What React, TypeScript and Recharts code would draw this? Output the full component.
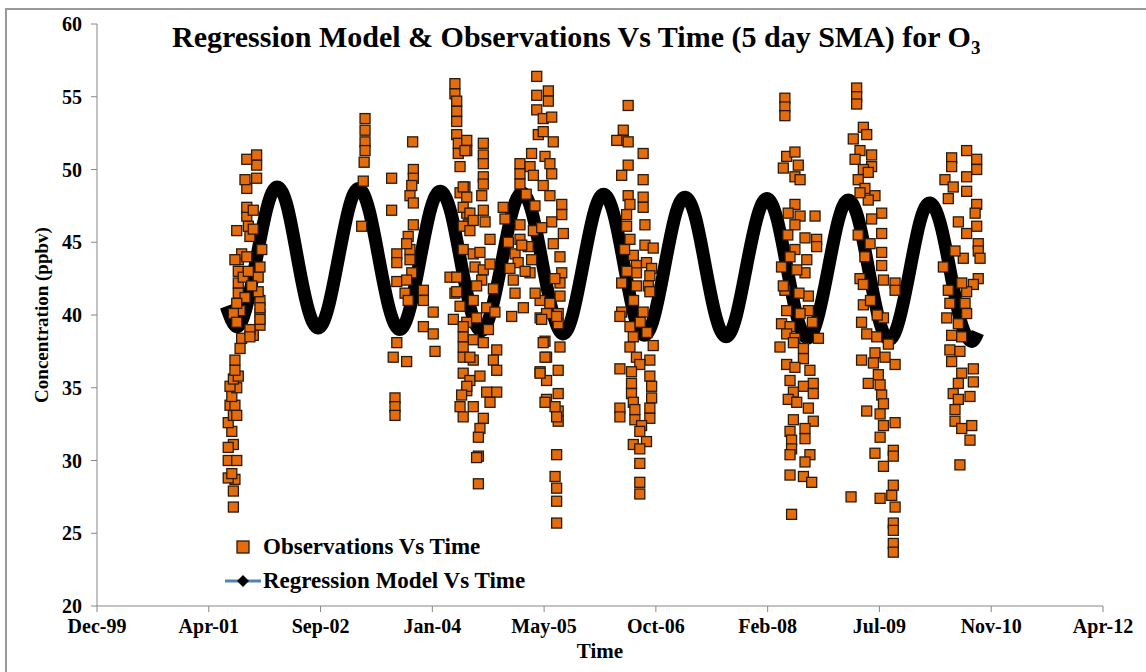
import React from "react";
import { ComposedChart, Scatter, Line, XAxis, YAxis } from "recharts";

const FONT = '"Liberation Serif", "Times New Roman", serif';
const ORANGE = "#E46C0A";

// x axis is Excel day serials, 500 days between ticks
const tickDays = [36500, 37000, 37500, 38000, 38500, 39000, 39500, 40000, 40500, 41000];
const tickLabels = ["Dec-99", "Apr-01", "Sep-02", "Jan-04", "May-05", "Oct-06", "Feb-08", "Jul-09", "Nov-10", "Apr-12"];
const yTicks = [20, 25, 30, 35, 40, 45, 50, 55, 60];

// observations, [day, ppbv], grouped by campaign
const obsA = [
  [37110, 26.8], [37110, 27.9], [37117, 28.7], [37087, 28.8], [37103, 29.1], [37087, 30.0], [37125, 30.0], [37110, 31.1],
  [37087, 30.9], [37103, 32.0], [37087, 32.6], [37110, 33.1], [37125, 33.1], [37095, 33.8], [37117, 33.8], [37103, 34.4],
  [37125, 35.0], [37095, 35.1], [37110, 35.6], [37132, 35.8], [37117, 36.2], [37117, 36.9], [37140, 37.7], [37147, 38.4],
  [37199, 38.7], [37229, 39.3], [37229, 40.1], [37229, 41.0], [37221, 42.6], [37229, 43.3], [37237, 44.5], [37132, 42.2],
  [37132, 43.0], [37132, 43.8], [37132, 41.5], [37154, 42.6], [37184, 45.4], [37177, 46.1], [37125, 45.8], [37170, 46.8],
  [37170, 47.4], [37199, 47.2], [37170, 48.7], [37214, 49.4], [37214, 50.3], [37170, 50.7], [37214, 51.0], [37229, 39.7],
  [37199, 38.6], [37229, 40.5], [37221, 41.6], [37147, 44.2], [37140, 40.3], [37162, 49.3], [37199, 45.9], [37170, 44.0],
  [37177, 43.0], [37162, 41.2], [37192, 42.0], [37117, 43.8], [37125, 40.8], [37110, 40.1], [37125, 39.5], [37184, 39.0],
  [37184, 38.5],
];
const obsB = [[37699, 53.5], [37699, 52.7], [37699, 51.9], [37699, 51.3], [37695, 50.5], [37691, 49.2], [37684, 46.1]];
const obsC = [
  [37912, 51.9], [37818, 49.4], [37915, 50.0], [37915, 49.4], [37908, 48.9], [37900, 48.2], [37915, 47.7], [37818, 47.2],
  [37915, 46.2], [37892, 45.4], [37900, 44.5], [37841, 44.2], [37841, 43.6], [37841, 42.3], [37900, 43.8], [37908, 42.9],
  [37960, 41.7], [37960, 41.0], [38004, 40.2], [37960, 39.2], [38004, 38.7], [37841, 38.1], [37825, 37.1], [37885, 36.8],
  [38012, 37.5], [37833, 34.3], [37833, 33.7], [37833, 33.1], [37885, 42.4], [37878, 41.5], [37892, 41.0], [37885, 44.9],
];
const obsD = [
  [38101, 55.9], [38101, 55.2], [38109, 54.7], [38109, 54.0], [38109, 53.3], [38109, 52.4], [38116, 51.8], [38116, 51.1],
  [38124, 50.2], [38154, 52.0], [38154, 51.3], [38228, 51.8], [38228, 51.0], [38228, 50.4], [38228, 49.5], [38228, 49.0],
  [38221, 48.2], [38228, 47.2], [38236, 46.4], [38146, 48.8], [38124, 48.4], [38154, 47.0], [38161, 46.2], [38258, 45.2],
  [38183, 44.2], [38213, 44.3], [38191, 43.3], [38228, 43.1], [38079, 42.6], [38109, 42.6], [38221, 42.4], [38101, 41.5],
  [38183, 41.0], [38094, 39.7], [38154, 39.5], [38138, 38.5], [38183, 38.3], [38228, 38.1], [38288, 37.6], [38138, 37.1],
  [38183, 36.9], [38273, 36.9], [38138, 36.0], [38168, 35.5], [38213, 35.8], [38288, 36.2], [38154, 34.8], [38243, 34.7],
  [38288, 34.7], [38124, 33.7], [38183, 33.7], [38258, 34.0], [38138, 33.0], [38228, 32.9], [38213, 32.2], [38206, 31.6],
  [38206, 30.3], [38206, 28.4], [38146, 51.3], [38138, 48.8], [38154, 48.1], [38138, 47.4], [38168, 47.0], [38138, 46.1],
  [38109, 41.6], [38124, 40.6], [38138, 39.2], [38138, 37.8], [38168, 37.1], [38154, 35.1], [38131, 34.5], [38198, 30.2],
  [38138, 44.5], [38168, 45.8], [38198, 42.0], [38243, 40.5], [38258, 43.5], [38273, 41.8], [38198, 39.8], [38251, 39.0],
  [38183, 46.5], [38280, 40.2],
];
const obsE = [
  [38467, 56.4], [38467, 55.1], [38519, 55.4], [38519, 54.7], [38467, 54.1], [38496, 53.5], [38534, 53.6], [38474, 52.4],
  [38496, 52.6], [38541, 51.9], [38444, 51.1], [38504, 50.9], [38392, 50.4], [38437, 50.2], [38526, 50.4], [38534, 49.7],
  [38392, 49.7], [38452, 49.6], [38496, 48.9], [38392, 49.0], [38526, 48.2], [38579, 47.6], [38579, 46.9], [38534, 46.4],
  [38586, 45.6], [38541, 44.9], [38317, 47.4], [38325, 46.6], [38392, 46.2], [38392, 45.2], [38370, 44.2], [38384, 43.6],
  [38452, 45.8], [38429, 44.7], [38444, 43.8], [38437, 42.9], [38571, 44.0], [38579, 42.9], [38571, 42.2], [38571, 41.3],
  [38362, 42.4], [38370, 41.5], [38355, 39.9], [38482, 41.0], [38526, 40.8], [38482, 39.8], [38563, 40.1], [38563, 39.4],
  [38571, 37.8], [38504, 38.2], [38511, 37.1], [38482, 36.1], [38511, 35.5], [38563, 36.2], [38563, 34.6], [38563, 33.4],
  [38563, 32.7], [38511, 34.2], [38549, 33.7], [38556, 30.4], [38549, 28.9], [38556, 28.1], [38556, 27.2], [38556, 25.7],
  [38511, 40.1], [38556, 39.9], [38489, 39.7], [38496, 38.1], [38504, 37.1], [38482, 36.0], [38504, 34.0], [38556, 33.0],
  [38400, 44.8], [38415, 43.0], [38459, 47.5], [38420, 48.3], [38340, 45.0], [38347, 43.2], [38407, 40.5], [38548, 42.5],
  [38489, 46.0], [38460, 41.5],
];
const obsF = [
  [38876, 54.4], [38854, 52.7], [38854, 52.0], [38876, 51.9], [38943, 51.1], [38876, 50.3], [38847, 49.6], [38943, 49.3],
  [38876, 48.2], [38884, 47.6], [38869, 46.9], [38943, 48.1], [38943, 47.4], [38951, 46.2], [38869, 46.1], [38884, 45.2],
  [38951, 44.8], [38988, 44.6], [38899, 44.1], [38913, 43.4], [38958, 43.6], [38981, 43.2], [38913, 42.9], [38973, 42.7],
  [38847, 42.2], [38913, 42.0], [38966, 42.0], [38973, 41.6], [38847, 40.2], [38943, 40.2], [38839, 39.9], [38884, 39.2],
  [38899, 38.5], [38988, 37.9], [38884, 37.8], [38913, 37.1], [38973, 36.9], [38928, 36.6], [38839, 36.3], [38891, 36.1],
  [38973, 35.8], [38891, 35.3], [38981, 35.1], [38891, 34.6], [38981, 34.3], [38899, 34.0], [38839, 33.6], [38839, 33.0],
  [38906, 33.5], [38973, 33.6], [38973, 32.9], [38906, 32.8], [38936, 32.4], [38928, 32.0], [38899, 31.1], [38958, 31.3],
  [38928, 30.8], [38928, 29.8], [38928, 28.5], [38928, 27.7], [38825, 52.0], [38860, 44.5], [38900, 41.0], [38930, 39.5],
  [38960, 38.8], [38870, 43.0],
];
const obsG = [
  [39577, 54.9], [39577, 54.3], [39577, 53.7], [39585, 50.9], [39622, 51.2], [39570, 50.1], [39637, 50.3], [39622, 49.5],
  [39645, 49.3], [39622, 47.6], [39645, 46.8], [39592, 47.0], [39712, 46.8], [39622, 46.2], [39667, 45.3], [39719, 45.2],
  [39719, 44.7], [39622, 44.5], [39675, 43.8], [39562, 43.3], [39667, 42.9], [39630, 43.1], [39577, 41.7], [39682, 41.3],
  [39585, 40.3], [39682, 40.3], [39645, 40.1], [39562, 39.4], [39600, 39.2], [39585, 38.7], [39622, 38.4], [39727, 38.4],
  [39555, 37.8], [39660, 37.7], [39615, 38.1], [39660, 37.0], [39585, 36.6], [39622, 36.4], [39689, 36.2], [39600, 35.5],
  [39704, 35.3], [39660, 35.1], [39615, 34.7], [39704, 34.6], [39592, 34.2], [39630, 34.0], [39682, 33.6], [39615, 32.8],
  [39704, 32.7], [39667, 32.2], [39600, 32.0], [39667, 31.5], [39607, 31.4], [39607, 30.8], [39600, 30.4], [39689, 30.4],
  [39667, 29.9], [39600, 29.0], [39660, 28.9], [39697, 28.5], [39607, 26.3], [39570, 42.0], [39600, 44.0], [39640, 41.5],
  [39700, 39.5], [39590, 45.5],
];
const obsH = [
  [39898, 55.6], [39898, 55.0], [39898, 54.5], [39928, 52.9], [39943, 52.4], [39883, 52.1], [39965, 51.0], [39913, 51.3],
  [39891, 50.7], [39965, 50.2], [39928, 50.0], [39950, 49.8], [39905, 49.3], [39935, 48.7], [39980, 48.2], [39950, 47.9],
  [39913, 48.4], [40010, 47.0], [39965, 46.6], [40010, 45.6], [39958, 44.9], [40010, 44.3], [40010, 43.4], [39913, 42.5],
  [40018, 42.4], [40070, 42.2], [40070, 41.7], [39928, 42.1], [39928, 40.7], [39920, 39.5], [39943, 38.7], [40018, 39.8],
  [39988, 38.5], [39920, 36.9], [39980, 37.4], [40025, 37.1], [40070, 36.6], [39973, 36.7], [39995, 35.9], [39950, 35.3],
  [40003, 35.2], [40010, 34.5], [40018, 33.9], [39943, 33.4], [40003, 33.2], [40070, 32.6], [40018, 32.4], [40003, 31.6],
  [39980, 30.5], [40062, 30.7], [40062, 30.3], [40018, 29.6], [40062, 28.3], [40003, 27.4], [40055, 27.6], [40070, 26.8],
  [40062, 25.7], [40062, 25.2], [40062, 24.3], [40062, 23.7], [39935, 44.0], [39960, 41.0], [39990, 40.0], [40040, 38.0],
  [39905, 45.5], [39873, 27.5],
];
const obsI = [
  [40390, 51.3], [40435, 50.7], [40435, 50.0], [40323, 50.8], [40323, 50.2], [40390, 49.5], [40293, 49.3], [40330, 48.8],
  [40390, 48.5], [40308, 48.0], [40435, 47.6], [40428, 47.0], [40353, 46.4], [40435, 46.1], [40390, 45.6], [40442, 44.9],
  [40442, 44.4], [40450, 43.9], [40375, 43.9], [40338, 44.4], [40286, 43.3], [40442, 42.5], [40420, 42.1], [40390, 41.6],
  [40308, 41.7], [40368, 42.2], [40383, 40.8], [40315, 40.8], [40301, 39.8], [40390, 40.1], [40353, 39.4], [40323, 38.6],
  [40368, 38.5], [40315, 37.6], [40360, 37.5], [40323, 36.8], [40420, 36.3], [40368, 36.0], [40353, 35.3], [40420, 35.4],
  [40330, 34.6], [40405, 34.4], [40353, 34.2], [40338, 33.5], [40338, 32.7], [40368, 32.2], [40413, 32.4], [40405, 31.4],
  [40360, 29.7],
];

// regression model
const modelDays = [
  37078, 37124, 37169, 37215, 37261, 37306, 37352, 37397,
  37443, 37489, 37534, 37580, 37626, 37671, 37717, 37762,
  37808, 37854, 37899, 37945, 37991, 38036, 38082, 38127,
  38173, 38219, 38264, 38310, 38356, 38401, 38447, 38492,
  38538, 38584, 38629, 38675, 38721, 38766, 38812, 38857,
  38903, 38949, 38994, 39040, 39086, 39131, 39177, 39222,
  39268, 39314, 39359, 39405, 39451, 39496, 39542, 39587,
  39633, 39679, 39724, 39770, 39816, 39861, 39907, 39952,
  39998, 40044, 40089, 40135, 40181, 40226, 40272, 40317,
  40363, 40409, 40440,
];
const modelValues = [
  40.6, 39.2, 40.6, 44.0, 47.4, 48.8, 47.4, 43.9,
  40.5, 39.1, 40.5, 43.9, 47.3, 48.7, 47.2, 43.8,
  40.4, 39.0, 40.4, 43.8, 47.2, 48.5, 47.1, 43.7,
  40.3, 38.9, 40.3, 43.6, 47.0, 48.4, 47.0, 43.6,
  40.2, 38.7, 40.1, 43.5, 46.9, 48.3, 46.9, 43.5,
  40.0, 38.6, 40.0, 43.4, 46.8, 48.1, 46.7, 43.3,
  39.9, 38.5, 39.9, 43.3, 46.6, 48.0, 46.6, 43.2,
  39.8, 38.4, 39.8, 43.1, 46.5, 47.9, 46.5, 43.1,
  39.7, 38.3, 39.7, 43.0, 46.4, 47.7, 46.3, 43.0,
  39.6, 38.2, 38.8,
];

const observations = [...obsA, ...obsB, ...obsC, ...obsD, ...obsE, ...obsF, ...obsG, ...obsH, ...obsI].map(
  ([day, value]) => ({ day, value })
);
const model = modelDays.map((day, i) => ({ day, value: modelValues[i] }));

const Square = (props: any) => {
  const { cx, cy } = props;
  if (cx == null || cy == null) return null;
  return <rect x={cx - 5} y={cy - 5} width={10} height={10} fill={ORANGE} stroke="#2a1a0c" strokeWidth={1.3} />;
};

const tickStyle = { fill: "#000", fontSize: 20, fontWeight: "bold", fontFamily: FONT };

export default function App() {
  return (
    <div style={{ position: "absolute", left: 0, top: 0, width: 1146, height: 672, background: "#fff", overflow: "hidden" }}>
      {/* frame: only top and left edges are visible */}
      <div style={{ position: "absolute", left: 5, top: 8, width: 1160, height: 700, borderTop: "2px solid #9a9a9a", borderLeft: "2px solid #9a9a9a" }} />

      <ComposedChart width={1146} height={672} margin={{ top: 24, right: 43, bottom: 26, left: 37 }}>
        <XAxis
          type="number"
          dataKey="day"
          domain={[36500, 41000]}
          ticks={tickDays}
          interval={0}
          tickFormatter={(d) => tickLabels[tickDays.indexOf(d)]}
          stroke="#868686"
          tick={tickStyle}
          tickSize={6}
          tickMargin={7}
          height={40}
        />
        <YAxis
          type="number"
          domain={[20, 60]}
          ticks={yTicks}
          interval={0}
          stroke="#868686"
          tick={tickStyle}
          tickSize={6}
          tickMargin={9}
          width={60}
        />
        <Scatter data={observations} dataKey="value" shape={Square} isAnimationActive={false} />
        <Line
          data={model}
          dataKey="value"
          type="natural"
          stroke="#000"
          strokeWidth={13}
          strokeLinejoin="round"
          dot={false}
          activeDot={false}
          isAnimationActive={false}
        />
      </ComposedChart>

      <div
        style={{
          position: "absolute", left: 172, top: 20, fontFamily: FONT, fontWeight: "bold", fontSize: 30, whiteSpace: "nowrap", color: "#000",
        }}
      >
        Regression Model &amp; Observations Vs Time (5 day SMA) for O<sub style={{ fontSize: 19 }}>3</sub>
      </div>

      <div
        style={{
          position: "absolute", left: 42, top: 315, transform: "translate(-50%, -50%) rotate(-90deg)",
          fontFamily: FONT, fontWeight: "bold", fontSize: 19, whiteSpace: "nowrap",
        }}
      >
        Concentration (ppbv)
      </div>
      <div
        style={{
          position: "absolute", left: 600, top: 651, transform: "translate(-50%, -50%)",
          fontFamily: FONT, fontWeight: "bold", fontSize: 21,
        }}
      >
        Time
      </div>

      {/* legend */}
      <div style={{ position: "absolute", left: 220, top: 532, fontFamily: FONT, fontWeight: "bold", fontSize: 23, whiteSpace: "nowrap" }}>
        <div style={{ display: "flex", alignItems: "center", height: 30 }}>
          <svg width={43} height={20}>
            <rect x={17} y={4} width={12} height={12} fill={ORANGE} stroke="#2a1a0c" strokeWidth={1.3} />
          </svg>
          <span>Observations Vs Time</span>
        </div>
        <div style={{ display: "flex", alignItems: "center", height: 38 }}>
          <svg width={43} height={20}>
            <line x1={5} y1={10} x2={41} y2={10} stroke="#4F81BD" strokeWidth={3} />
            <polygon points="23,4 29,10 23,16 17,10" fill="#000" />
          </svg>
          <span>Regression Model Vs Time</span>
        </div>
      </div>
    </div>
  );
}
